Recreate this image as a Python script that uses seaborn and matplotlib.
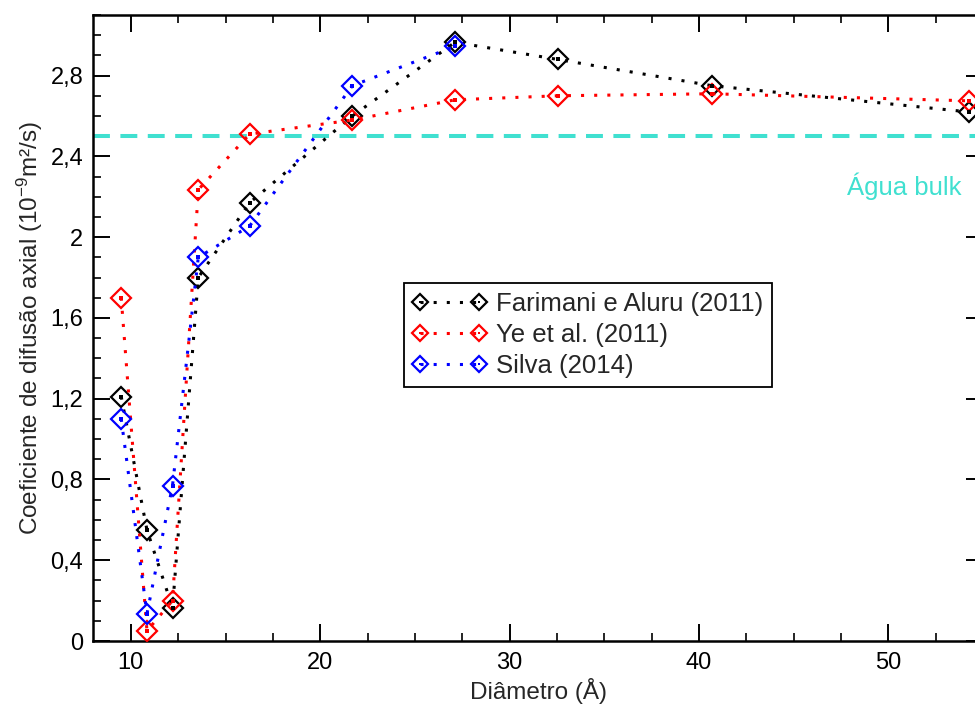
import matplotlib
matplotlib.use("Agg")
import matplotlib.pyplot as plt
import seaborn as sns
import pandas as pd
from matplotlib.ticker import MultipleLocator, FixedLocator, FixedFormatter

# ---- data ----
diam = [9.49, 10.85, 12.20, 13.56, 16.27, 21.70, 27.12, 32.54, 40.68, 54.24]
farimani = [1.21, 0.55, 0.165, 1.80, 2.17, 2.60, 2.965, 2.88, 2.75, 2.62]
ye = [1.70, 0.05, 0.20, 2.235, 2.51, 2.58, 2.68, 2.70, 2.71, 2.675]
silva_d = [9.49, 10.85, 12.20, 13.56, 16.27, 21.70, 27.12]
silva = [1.10, 0.135, 0.77, 1.90, 2.055, 2.75, 2.945]
bulk = 2.5
series_names = ["Farimani e Aluru (2011)", "Ye et al. (2011)", "Silva (2014)"]
series_colors = ["black", "red", "blue"]
yticks = [0, 0.4, 0.8, 1.2, 1.6, 2.0, 2.4, 2.8]
yticklabels = ["0", "0,4", "0,8", "1,2", "1,6", "2", "2,4", "2,8"]
xticks = [10, 20, 30, 40, 50]
xticklabels = ["10", "20", "30", "40", "50"]

sns.set_theme(style="white")
plt.rcParams["font.family"] = ["Liberation Sans", "DejaVu Sans"]
plt.rcParams["mathtext.default"] = "regular"

fig = plt.figure(figsize=(9.75, 7.04), dpi=100)
ax = fig.add_axes([93 / 975, 63 / 704, 890 / 975, 626 / 704])

ax.axhline(bulk, color="#40E0D0", lw=2.9, linestyle=(0, (4.2, 2.6)), zorder=1)
ax.text(53.85, 2.25, "Água bulk", color="#40E0D0", fontsize=18.5,
        ha="right", va="center")

datasets = [(diam, farimani), (diam, ye), (silva_d, silva)]
handles = []
for (xs, ys), name, col in zip(datasets, series_names, series_colors):
    df = pd.DataFrame({"x": xs, "y": ys})
    n0 = len(ax.lines)
    sns.lineplot(data=df, x="x", y="y", ax=ax, color=col, sort=False,
                 errorbar=None, marker="D", markersize=10.5,
                 markerfacecolor="none", markeredgecolor=col,
                 markeredgewidth=1.6, linewidth=2.2,
                 linestyle=(0, (1, 3.3)), zorder=3)
    l1 = ax.lines[n0]
    sns.lineplot(data=df, x="x", y="y", ax=ax, color=col, sort=False,
                 errorbar=None, marker="s", markersize=2.2,
                 markerfacecolor=col, markeredgecolor=col,
                 markeredgewidth=0, linestyle="none", zorder=4)
    l2 = ax.lines[n0 + 1]
    handles.append((l1, l2))

ax.set_xlim(8, 55)
ax.set_ylim(0, 3.1)
ax.xaxis.set_major_locator(FixedLocator(xticks))
ax.xaxis.set_major_formatter(FixedFormatter(xticklabels))
ax.xaxis.set_minor_locator(MultipleLocator(2.5))
ax.yaxis.set_major_locator(FixedLocator(yticks))
ax.yaxis.set_major_formatter(FixedFormatter(yticklabels))
ax.yaxis.set_minor_locator(MultipleLocator(0.1))
ax.tick_params(which="both", direction="in", top=True, right=True,
               bottom=True, left=True, colors="black", labelsize=17)
ax.tick_params(which="major", length=12, width=1.4)
ax.tick_params(axis="x", which="major", pad=8)
ax.tick_params(axis="y", which="major", pad=7)
ax.tick_params(which="minor", length=6, width=1.2)
for s in ax.spines.values():
    s.set_color("black")
    s.set_linewidth(1.8)

ax.set_xlabel("Diâmetro (Å)", fontsize=17.5, labelpad=3)
ax.set_ylabel("Coeficiente de difusão axial (10$^{-9}$m²/s)", fontsize=17.5,
              labelpad=4)

leg = ax.legend(handles, series_names, loc="upper left",
                bbox_to_anchor=(0.349, 0.572), borderaxespad=0,
                fontsize=18.5, numpoints=2, handlelength=2.9,
                handletextpad=0.35, labelspacing=0.27, markerscale=0.75,
                fancybox=False, framealpha=1, edgecolor="black",
                borderpad=0.35)
leg.get_frame().set_linewidth(1.3)

fig.savefig("out.png", dpi=100)
